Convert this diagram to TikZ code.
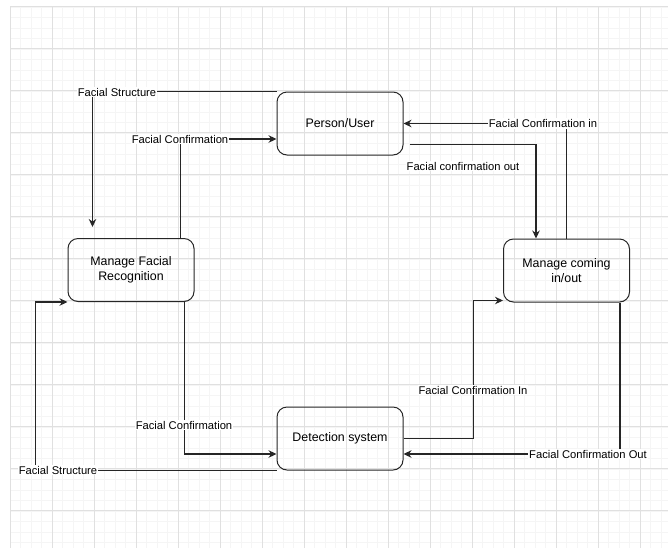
\documentclass[tikz,border=0pt]{standalone}
\usepackage{fontspec}
\setmainfont{Liberation Sans}
\usetikzlibrary{positioning,arrows.meta}

\tikzset{
	box/.style={draw=black!85, line width=1pt, rounded corners=10pt, minimum width=126pt, minimum height=63pt, align=center, font=\fontsize{12.4}{14.5}\selectfont},
	flow/.style={draw=black!85, line width=1.1pt, -{Stealth[length=8pt,width=7.5pt]}},
	lbl/.style={fill=white, inner sep=1pt, font=\fontsize{11.2}{13}\selectfont},
}

\begin{document}
\begin{tikzpicture}[x=1pt,y=-1pt]

	\useasboundingbox (0,0) rectangle (668,547);
	\begin{scope}[shift={(10,6.7)}]
		\draw[black!4, line width=0.4pt, step=10.5pt] (0,0) grid (658,541);
		\draw[black!12, line width=0.5pt, step=42pt] (0,0) grid (658,541);
	\end{scope}

	\node[box] (person) at (340,123.5) {Person/User};
	\node[box] (managefr) at (131,270) {Manage Facial\\Recognition};
	\node[box] (inout) at (566.5,270.5) {Manage coming\\in/out};
	\node[box] (detect) at (340,438.5) {Detection system};

	\draw[flow] (person.north west) -| ([xshift=25pt,yshift=11pt]managefr.north west);
	\node[lbl] (fstop) at (117,92) {Facial Structure};

	\draw[flow] ([xshift=-14pt]managefr.north east) |- ([yshift=-15.5pt]person.west);
	\node[lbl] (fctop) at (180,139) {Facial Confirmation};

	\draw[flow] (inout.north) |- (person.east);
	\node[lbl] (fcin) at (543,123.5) {Facial Confirmation in};

	\draw[flow] ([xshift=6pt,yshift=11pt]person.south east) -| ([xshift=-30.5pt]inout.north);
	\node[lbl] (fcout) at (463,166) {Facial confirmation out};

	\draw[flow] ([xshift=-10pt]managefr.south east) |- ([yshift=-15.5pt]detect.west);
	\node[lbl] (fcbot) at (184,425) {Facial Confirmation};

	\draw[flow] (detect.south west) -| ([xshift=-32pt]managefr.south west) -- (managefr.south west);
	\node[lbl] (fsbot) at (58,470) {Facial Structure};

	\draw[flow] (detect.east) -- ++(70,0) |- ([yshift=2pt]inout.south west);
	\node[lbl] (fcinb) at (473,390) {Facial Confirmation In};

	\draw[flow] ([xshift=-10pt]inout.south east) |- ([yshift=-15.5pt]detect.east);
	\node[lbl] (fcoutb) at (588,454) {Facial Confirmation Out};

\end{tikzpicture}
\end{document}
